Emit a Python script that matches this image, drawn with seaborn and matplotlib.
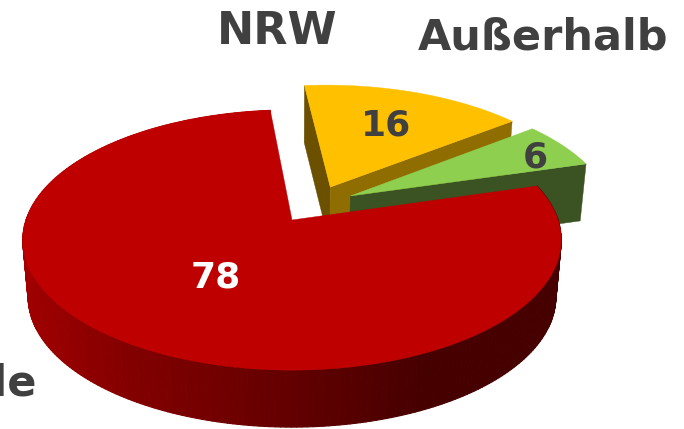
"""Exploded 3D-look pie chart drawn on a pixel-sized seaborn/matplotlib axes."""

import matplotlib
matplotlib.use("Agg")

import numpy as np
import matplotlib.pyplot as plt
import seaborn as sns
from matplotlib.collections import PolyCollection

# data, clockwise from the start angle
categories = ["NRW", "Außerhalb", "Lokale"]
values = [16, 6, 78]

# look of the chart
START_ANGLE = 95.4
CX, CY = 292, 220      # pixel position of the pie centre
RX, RY = 266, 127      # pie radius on screen
PERSP = 0.154          # how fast things shrink towards the back
DEPTH = 57             # height of the pie in pixels
BOTTOM_SHRINK = 0.98   # bottom rim is a little narrower than the top rim
TEXT_GREY = "#404040"

sns.set_theme(style="white")
plt.rcParams["font.family"] = ["DejaVu Sans"]


def project(x, y, low=False):
    """Ground-plane coordinates to screen pixels, top or bottom rim."""
    f = 1 / (1 + PERSP * np.asarray(y))
    sx = RX * np.asarray(x) * f
    sy = CY - RY * np.asarray(y) * f
    if low:
        return CX + sx * BOTTOM_SHRINK, sy + DEPTH
    return CX + sx, sy


def arc(a0, a1, offset, n):
    t = np.radians(np.linspace(a0, a1, n))
    return np.cos(t) + offset[0], np.sin(t) + offset[1]


def cut_face(ax, angle, offset, color):
    """Flat wall between the pie centre and the rim at one angle."""
    ox, oy = offset
    rx, ry = ox + np.cos(np.radians(angle)), oy + np.sin(np.radians(angle))
    xs = np.array([ox, rx])
    ys = np.array([oy, ry])
    tx, ty = project(xs, ys)
    bx, by = project(xs, ys, low=True)
    ax.fill(np.r_[tx, bx[::-1]], np.r_[ty, by[::-1]], color=color, lw=0.3)


def top_face(ax, a0, a1, offset, color):
    ax_, ay_ = arc(a0, a1, offset, 200)
    tx, ty = project(np.r_[offset[0], ax_], np.r_[offset[1], ay_])
    ax.fill(tx, ty, color=color, lw=0.3)


fig, ax = plt.subplots(figsize=(6.84, 4.29), dpi=100)
fig.subplots_adjust(0, 0, 1, 1)
ax.set_xlim(0, 684)
ax.set_ylim(429, 0)
ax.axis("off")

# angles of the slices come from the values
spans = np.array(values) / sum(values) * 360
ends = START_ANGLE - np.cumsum(spans)
starts = np.r_[START_ANGLE, ends[:-1]]

# NRW, at the back
off_yellow = (0.15, 0.27)
cut_face(ax, starts[0], off_yellow, "#6B5000")
cut_face(ax, ends[0], off_yellow, "#8F6D00")
top_face(ax, starts[0], ends[0], off_yellow, "#FFC000")

# Außerhalb
off_green = (0.226, 0.195)
cut_face(ax, ends[1], off_green, "#3B5323")
top_face(ax, starts[1], ends[1], off_green, "#8FCF4F")

# big slice: rim wall made of thin quads with a colour run, then the top
# the arc runs clockwise from the right side round to the top
n_seg = 280
wall_colors = sns.blend_palette(
    ["#460000", "#460000", "#460000", "#720000", "#980000", "#A80000", "#B00000", "#B00000"],
    n_seg)
rim_x, rim_y = arc(starts[2], ends[2], (0, 0), n_seg + 1)
tx, ty = project(rim_x, rim_y)
bx, by = project(rim_x, rim_y, low=True)
quads = [[(tx[i], ty[i]), (tx[i + 1], ty[i + 1]), (bx[i + 1], by[i + 1]), (bx[i], by[i])]
         for i in range(n_seg)]
ax.add_collection(PolyCollection(quads, facecolors=wall_colors,
                                 edgecolors=wall_colors, linewidths=0.8))
top_face(ax, starts[2], ends[2], (0, 0), "#BF0000")

# value labels
ax.text(386, 125, str(values[0]), color=TEXT_GREY, fontsize=26, fontweight="bold",
        ha="center", va="center")
ax.text(535, 157, str(values[1]), color=TEXT_GREY, fontsize=26, fontweight="bold",
        ha="center", va="center")
ax.text(216, 278, str(values[2]), color="white", fontsize=26, fontweight="bold",
        ha="center", va="center")

# category labels
ax.text(277, 32, categories[0], color=TEXT_GREY, fontsize=32, fontweight="bold",
        ha="center", va="center")
ax.text(543, 38, categories[1], color=TEXT_GREY, fontsize=31, fontweight="bold",
        ha="center", va="center")
ax.text(36, 384, categories[2], color=TEXT_GREY, fontsize=31, fontweight="bold",
        ha="right", va="center")

fig.savefig("out.png", dpi=100)
plt.close(fig)
